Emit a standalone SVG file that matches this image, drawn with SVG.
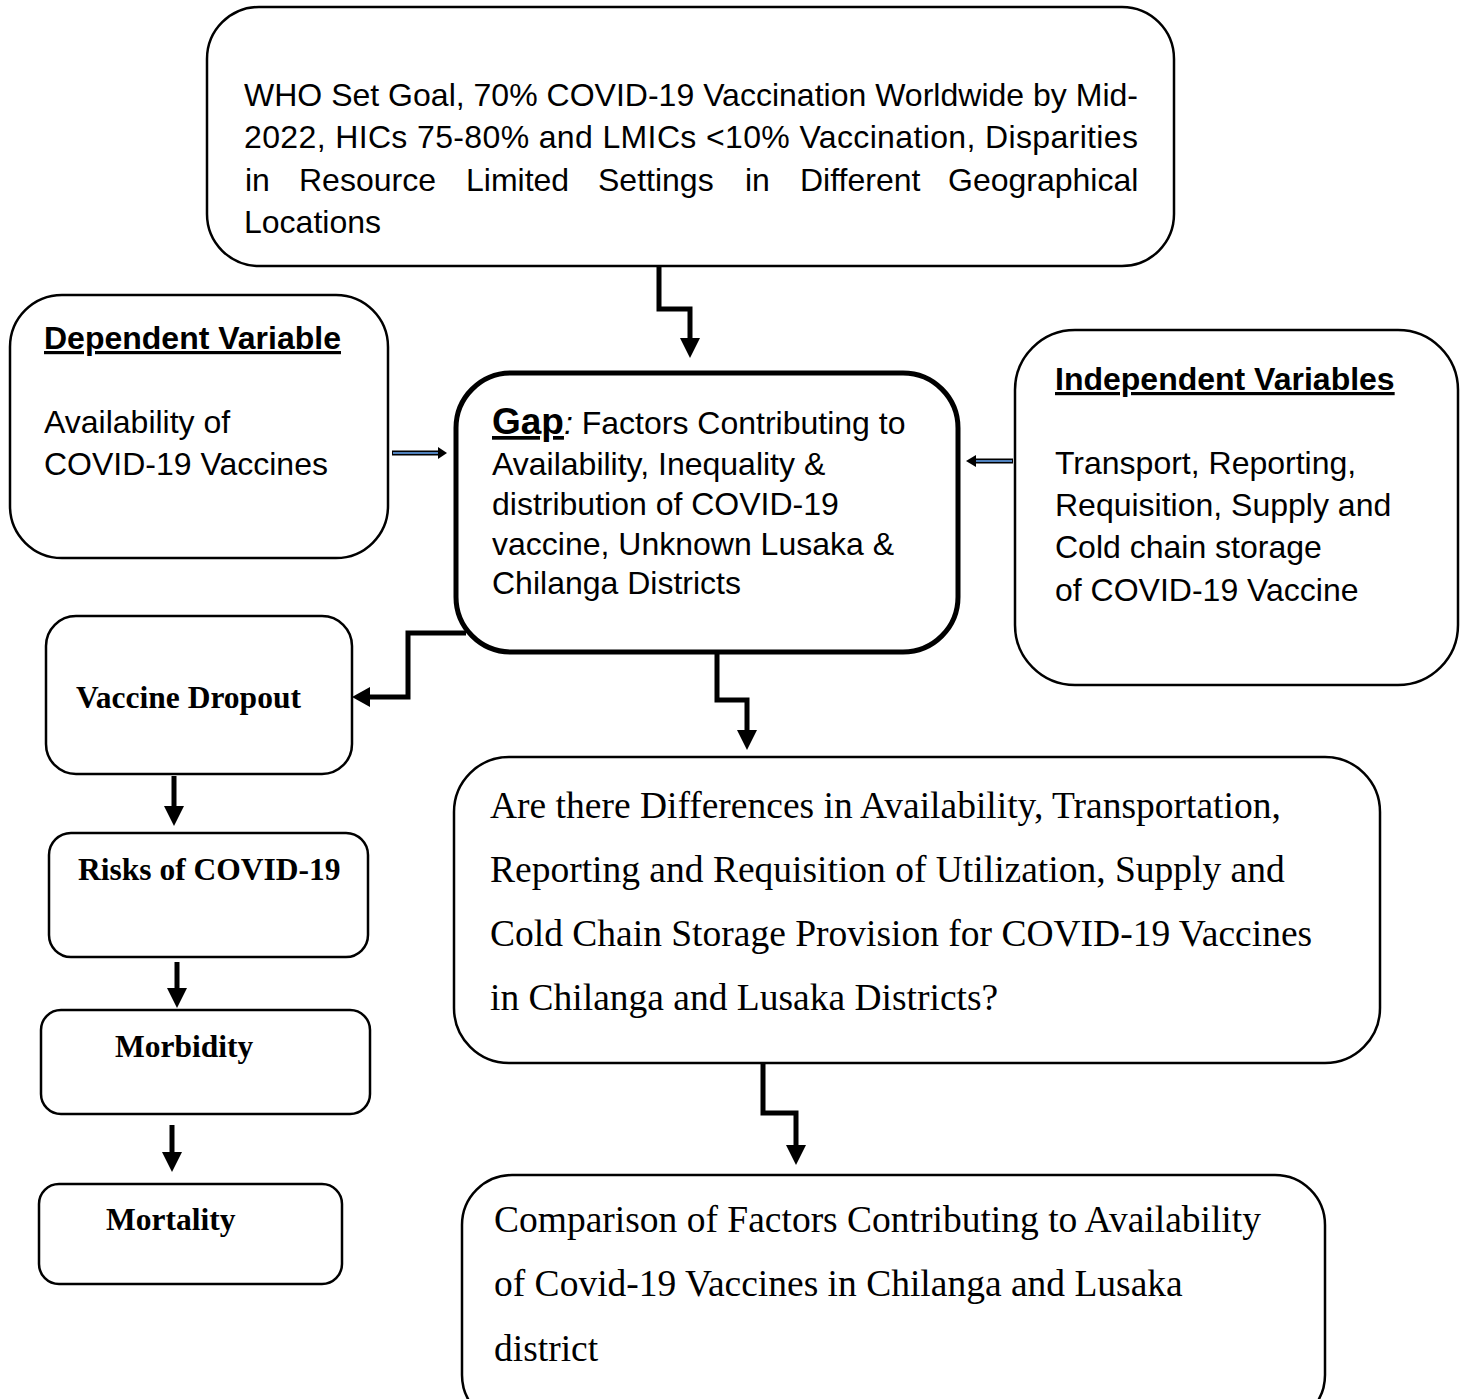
<svg xmlns="http://www.w3.org/2000/svg" width="1465" height="1399" viewBox="0 0 1465 1399">
<style>
.box{fill:#fff;stroke:#000;stroke-width:2.5}
.thick{stroke-width:5}
.a{font-family:"Liberation Sans",Arial,sans-serif;font-size:32px;fill:#000}
.t{font-family:"Liberation Serif","Times New Roman",serif;font-size:37.5px;fill:#000}
.tb{font-family:"Liberation Serif","Times New Roman",serif;font-weight:bold;font-size:31.5px;fill:#000}
.con{fill:none;stroke:#000;stroke-width:5}
.ah{fill:#000}
</style>
<rect width="1465" height="1399" fill="#fff"/>
<g id="connectors">
<path class="con" d="M659 258 V309 H690 V340"/>
<polygon class="ah" points="680,338 700,338 690,358"/>
<path class="con" d="M466 633 H408 V697 H368"/>
<polygon class="ah" points="370,687 370,707 352,697"/>
<path class="con" d="M717 652 V700 H747 V732"/>
<polygon class="ah" points="737,730 757,730 747,750"/>
<path class="con" d="M763 1063 V1113 H796 V1147"/>
<polygon class="ah" points="786,1145 806,1145 796,1165"/>
<path class="con" d="M174 776 V808"/>
<polygon class="ah" points="164,806 184,806 174,826"/>
<path class="con" d="M177 962 V990"/>
<polygon class="ah" points="167,988 187,988 177,1008"/>
<path class="con" d="M172 1125 V1154"/>
<polygon class="ah" points="162,1152 182,1152 172,1172"/>
<line x1="392" y1="453" x2="440" y2="453" stroke="#000" stroke-width="5"/>
<line x1="393" y1="453" x2="440" y2="453" stroke="#4f81bd" stroke-width="2"/>
<polygon class="ah" points="438,447 438,459 447,453"/>
<line x1="1013" y1="461" x2="974" y2="461" stroke="#000" stroke-width="5"/>
<line x1="1012" y1="461" x2="974" y2="461" stroke="#4f81bd" stroke-width="2"/>
<polygon class="ah" points="976,455 976,467 966,461"/>
</g>
<g id="top">
<rect class="box" x="207" y="7" width="967" height="259" rx="52"/>
<text class="a" x="244" y="106" textLength="894" lengthAdjust="spacing">WHO Set Goal, 70% COVID-19 Vaccination Worldwide by Mid-</text>
<text class="a" x="244" y="148" textLength="894" lengthAdjust="spacing">2022, HICs 75-80% and LMICs &lt;10% Vaccination, Disparities</text>
<text class="a" y="191"><tspan x="245">in</tspan><tspan x="299">Resource</tspan><tspan x="466">Limited</tspan><tspan x="598">Settings</tspan><tspan x="745">in</tspan><tspan x="800">Different</tspan><tspan x="948">Geographical</tspan></text>
<text class="a" x="244" y="233">Locations</text>
</g>
<g id="dependent">
<rect class="box" x="10" y="295" width="378" height="263" rx="52"/>
<text class="a" x="44" y="349" font-weight="bold" text-decoration="underline">Dependent Variable</text>
<text class="a" x="44" y="433">Availability of</text>
<text class="a" x="44" y="475">COVID-19 Vaccines</text>
</g>
<g id="gap">
<rect class="box thick" x="456" y="373" width="502" height="279" rx="55"/>
<text class="a" x="492" y="434"><tspan font-weight="bold" font-size="37px" text-decoration="underline">Gap</tspan><tspan font-style="italic">:</tspan> Factors Contributing to</text>
<text class="a" x="492" y="475">Availability, Inequality &amp;</text>
<text class="a" x="492" y="515">distribution of COVID-19</text>
<text class="a" x="492" y="555">vaccine, Unknown Lusaka &amp;</text>
<text class="a" x="492" y="594">Chilanga Districts</text>
</g>
<g id="independent">
<rect class="box" x="1015" y="330" width="443" height="355" rx="60"/>
<text class="a" x="1055" y="390" font-weight="bold" text-decoration="underline">Independent Variables</text>
<text class="a" x="1055" y="474">Transport, Reporting,</text>
<text class="a" x="1055" y="516">Requisition, Supply and</text>
<text class="a" x="1055" y="558">Cold chain storage</text>
<text class="a" x="1055" y="601">of COVID-19 Vaccine</text>
</g>
<g id="dropout">
<rect class="box" x="46" y="616" width="306" height="158" rx="30"/>
<text class="tb" x="76" y="708">Vaccine Dropout</text>
</g>
<g id="risks">
<rect class="box" x="49" y="833" width="319" height="124" rx="22"/>
<text class="tb" x="78" y="880">Risks of COVID-19</text>
</g>
<g id="morbidity">
<rect class="box" x="41" y="1010" width="329" height="104" rx="20"/>
<text class="tb" x="115" y="1057">Morbidity</text>
</g>
<g id="mortality">
<rect class="box" x="39" y="1184" width="303" height="100" rx="20"/>
<text class="tb" x="106" y="1230">Mortality</text>
</g>
<g id="question">
<rect class="box" x="454" y="757" width="926" height="306" rx="55"/>
<text class="t" x="490" y="818">Are there Differences in Availability, Transportation,</text>
<text class="t" x="490" y="882">Reporting and Requisition of Utilization, Supply and</text>
<text class="t" x="490" y="946">Cold Chain Storage Provision for COVID-19 Vaccines</text>
<text class="t" x="490" y="1010">in Chilanga and Lusaka Districts?</text>
</g>
<g id="comparison">
<rect class="box" x="462" y="1175" width="863" height="250" rx="50"/>
<text class="t" x="494" y="1232">Comparison of Factors Contributing to Availability</text>
<text class="t" x="494" y="1296">of Covid-19 Vaccines in Chilanga and Lusaka</text>
<text class="t" x="494" y="1361">district</text>
</g>
</svg>
